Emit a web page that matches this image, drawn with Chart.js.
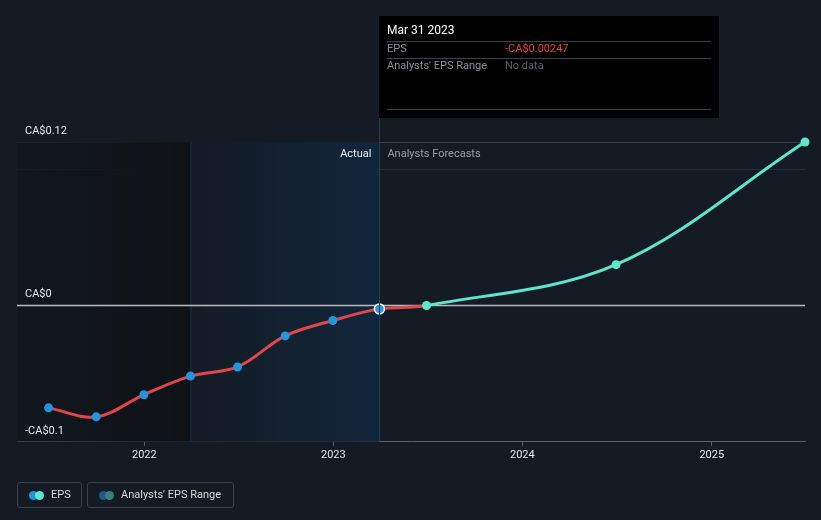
<!DOCTYPE html>
<html>
<head>
<meta charset="utf-8">
<script src="https://cdn.jsdelivr.net/npm/chart.js@4/dist/chart.umd.min.js"></script>
<style>
  html, body { margin: 0; padding: 0; background: #151b24; }
  body { width: 821px; height: 520px; position: relative; overflow: hidden; font-family: Roboto, "Noto Sans", sans-serif; }
  #chart { position: absolute; left: 0; top: 0; }
  .legend-item {
    position: absolute; top: 482px; height: 26px; box-sizing: border-box;
    border: 1px solid #3a3f48; border-radius: 3px; color: #d8dade; font-size: 11px;
    line-height: 24px;
  }
  .legend-item .dot { position: absolute; top: 8px; width: 9px; height: 9px; border-radius: 50%; }
  .legend-item span.txt { position: absolute; white-space: nowrap; }
</style>
</head>
<body>
<canvas id="chart" width="821" height="520"></canvas>
<div class="legend-item" style="left:17px;width:65px;">
  <div class="dot" style="left:11px;background:#2394df"></div>
  <div class="dot" style="left:17px;background:#5ee6cc"></div>
  <span class="txt" style="left:33px">EPS</span>
</div>
<div class="legend-item" style="left:87px;width:147px;">
  <div class="dot" style="left:11px;background:#1f5a8a"></div>
  <div class="dot" style="left:17px;background:#3b7f7a"></div>
  <span class="txt" style="left:33px">Analysts' EPS Range</span>
</div>
<script>
// actual EPS (quarter ends)
const actualDates = ["2021-06-30", "2021-09-30", "2021-12-31", "2022-03-31", "2022-06-30", "2022-09-30", "2022-12-31", "2023-03-31"]
const actualEps = [-0.0751, -0.0817, -0.0655, -0.0518, -0.0451, -0.0223, -0.0110, -0.00247]

// analysts forecasts
const forecastDates = ["2023-06-30", "2024-06-30", "2025-06-30"]
const forecastEps = [0.0, 0.030, 0.12]

const yearTicks = ["2022", "2023", "2024", "2025"]
const yTickLabels = [[0.12, "CA$0.12"], [0, "CA$0"], [-0.1, "-CA$0.1"]]
const xStart = "2021-04-30"

const ts = (d) => new Date(d + "T00:00:00Z").getTime()

const RED = "#e0474c"
const TEAL = "#5ee6cc"
const BLUE = "#2394df"

const allPoints = actualDates.map((d, i) => ({ x: ts(d), y: actualEps[i] }))
  .concat(forecastDates.map((d, i) => ({ x: ts(d), y: forecastEps[i] })))
const nActual = actualDates.length

const backgroundPlugin = {
  id: "bgRegions",
  beforeDatasetsDraw(chart) {
    const { ctx, chartArea, scales } = chart
    const x = scales.x
    const top = chartArea.top, bottom = chartArea.bottom
    const split = x.getPixelForValue(ts(actualDates[3]))
    const now = x.getPixelForValue(ts(actualDates[nActual - 1]))
    ctx.save()
    // older history, darker
    let g = ctx.createLinearGradient(chartArea.left, 0, split, 0)
    g.addColorStop(0, "rgba(17,21,27,0.6)")
    g.addColorStop(1, "#0f1216")
    ctx.fillStyle = g
    ctx.fillRect(chartArea.left, top, split - chartArea.left, bottom - top)
    // last year highlight
    g = ctx.createLinearGradient(split, 0, now, 0)
    g.addColorStop(0, "#131b25")
    g.addColorStop(1, "#12263b")
    ctx.fillStyle = g
    ctx.fillRect(split, top, now - split, bottom - top)
    ctx.fillStyle = "#1b2d42"
    ctx.fillRect(split, top, 1, bottom - top)
    ctx.restore()
  },
}

const overlayPlugin = {
  id: "overlay",
  beforeDatasetsDraw(chart) {
    const { ctx, chartArea, scales } = chart
    const y = scales.y
    // zero line
    ctx.save()
    ctx.strokeStyle = "#b9bcc1"
    ctx.lineWidth = 1.5
    ctx.beginPath()
    ctx.moveTo(chartArea.left, y.getPixelForValue(0))
    ctx.lineTo(chartArea.right, y.getPixelForValue(0))
    ctx.stroke()
    // y labels sit above their lines
    ctx.font = "11px Roboto"
    ctx.fillStyle = "#e2e4e8"
    ctx.textBaseline = "middle"
    yTickLabels.forEach(([v, label]) => {
      ctx.fillText(label, 25, y.getPixelForValue(v) - 11)
    })
    // actual / forecasts captions
    const now = scales.x.getPixelForValue(ts(actualDates[nActual - 1]))
    ctx.font = "11px Roboto"
    ctx.textAlign = "right"
    ctx.fillStyle = "#eceef0"
    ctx.fillText("Actual", now - 8, chartArea.top + 12)
    ctx.textAlign = "left"
    ctx.fillStyle = "#9a9ea5"
    ctx.fillText("Analysts Forecasts", now + 8, chartArea.top + 12)
    ctx.restore()
  },
  afterDraw(chart) {
    const { ctx, chartArea, scales } = chart
    const now = Math.round(scales.x.getPixelForValue(ts(actualDates[nActual - 1])))
    ctx.save()
    ctx.fillStyle = "#2a3d52"
    ctx.fillRect(now, 118, 1, chartArea.bottom - 118)
    // static tooltip
    const bx = now, by = 16, bw = 340, bh = 102
    ctx.fillStyle = "#000"
    ctx.fillRect(bx, by, bw, bh)
    ctx.fillStyle = "#3e4147"
    ctx.fillRect(bx + 8, by + 25, bw - 16, 1)
    ctx.fillRect(bx + 8, by + 42, bw - 16, 1)
    ctx.fillRect(bx + 8, by + 93, bw - 16, 1)
    ctx.textBaseline = "middle"
    ctx.font = "12px Roboto"
    ctx.fillStyle = "#ffffff"
    const d = new Date(ts(actualDates[nActual - 1]))
    const months = ["Jan", "Feb", "Mar", "Apr", "May", "Jun", "Jul", "Aug", "Sep", "Oct", "Nov", "Dec"]
    ctx.fillText(months[d.getUTCMonth()] + " " + d.getUTCDate() + " " + d.getUTCFullYear(), bx + 8, by + 15)
    ctx.font = "11px Roboto"
    ctx.fillStyle = "#8b8f96"
    ctx.fillText("EPS", bx + 8, by + 33)
    ctx.fillText("Analysts' EPS Range", bx + 8, by + 50)
    const v = actualEps[nActual - 1]
    ctx.fillStyle = "#e8413c"
    ctx.fillText((v < 0 ? "-" : "") + "CA$" + Math.abs(v).toFixed(5), bx + 126, by + 33)
    ctx.fillStyle = "#5d6168"
    ctx.fillText("No data", bx + 126, by + 50)
    ctx.restore()
  },
}

new Chart(document.getElementById("chart"), {
  type: "line",
  data: {
    datasets: [
      {
        label: "EPS",
        data: allPoints,
        borderWidth: 3,
        tension: 0.35,
        clip: false,
        segment: {
          borderColor: (c) => (c.p1DataIndex <= nActual ? RED : TEAL),
        },
        borderColor: RED,
        pointRadius: allPoints.map((p, i) => (i === nActual - 1 ? 5 : 4.5)),
        pointBackgroundColor: allPoints.map((p, i) => (i < nActual ? BLUE : TEAL)),
        pointBorderColor: allPoints.map((p, i) => (i === nActual - 1 ? "#ffffff" : i < nActual ? BLUE : TEAL)),
        pointBorderWidth: allPoints.map((p, i) => (i === nActual - 1 ? 1.5 : 0)),
      },
    ],
  },
  options: {
    responsive: false,
    animation: false,
    events: [],
    layout: { padding: { left: 17, right: 16, top: 142, bottom: 55 } },
    plugins: { legend: { display: false }, tooltip: { enabled: false } },
    scales: {
      x: {
        type: "linear",
        min: ts(xStart),
        max: ts(forecastDates[forecastDates.length - 1]),
        afterBuildTicks: (scale) => {
          scale.ticks = yearTicks.map((yr) => ({ value: ts(yr + "-01-01") }))
        },
        ticks: {
          color: "#e4e6ea",
          font: { family: "Roboto", size: 11 },
          padding: 3,
          maxRotation: 0,
          autoSkip: false,
          callback: (v) => String(new Date(v).getUTCFullYear()),
        },
        grid: { drawOnChartArea: false, drawTicks: true, tickLength: 4, color: "#5a5f68" },
        border: { display: true, color: "#5a5f68", width: 1 },
      },
      y: {
        min: -0.1,
        max: 0.12,
        afterBuildTicks: (scale) => {
          scale.ticks = [0.12, 0.1].map((v) => ({ value: v }))
        },
        ticks: { display: false },
        grid: {
          drawTicks: false,
          color: (c) => (c.tick && c.tick.value === 0.12 ? "#3b414b" : "#262c35"),
        },
        border: { display: false },
      },
    },
  },
  plugins: [backgroundPlugin, overlayPlugin],
})
</script>
</body>
</html>
